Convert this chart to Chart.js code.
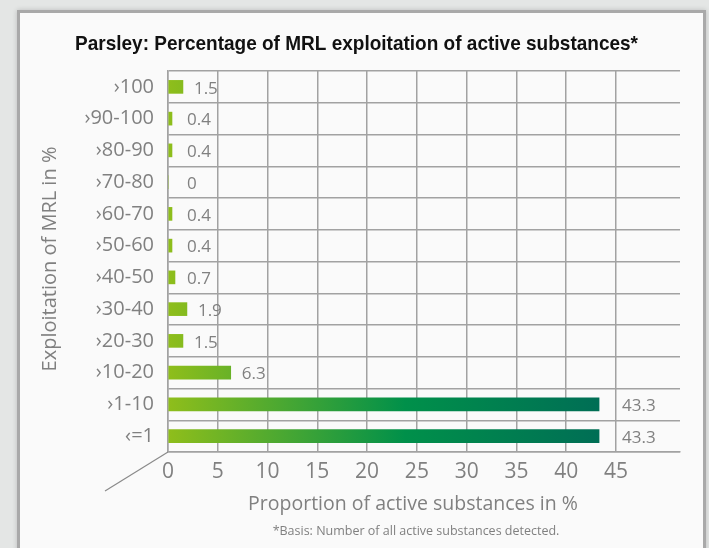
<!DOCTYPE html>
<html>
<head>
<meta charset="utf-8">
<script src="https://cdn.jsdelivr.net/npm/chart.js@4.4.0/dist/chart.umd.min.js"></script>
<style>
  html, body { margin: 0; padding: 0; }
  body { width: 709px; height: 548px; background: #e4e6e5; position: relative; overflow: hidden; }
  .panel {
    position: absolute; left: 17px; top: 10px; width: 683px; height: 600px;
    background: #fafafa; border: 3px solid #a9a9a9;
    box-shadow: 0 0 5px rgba(0,0,0,0.18);
  }
  #chart { position: absolute; left: 0; top: 0; }
</style>
</head>
<body>
<div class="panel"></div>
<canvas id="chart" width="709" height="548"></canvas>
<script>
const categories = ["›100", "›90-100", "›80-90", "›70-80", "›60-70", "›50-60",
    "›40-50", "›30-40", "›20-30", "›10-20", "›1-10", "‹=1"];
const shares = [1.5, 0.4, 0.4, 0, 0.4, 0.4, 0.7, 1.9, 1.5, 6.3, 43.3, 43.3];
const xTicks = [0, 5, 10, 15, 20, 25, 30, 35, 40, 45];

const chartTitle = "Parsley: Percentage of MRL exploitation of active substances*";
const xTitle = "Proportion of active substances in %";
const yTitle = "Exploitation of MRL in %";
const footnote = "*Basis: Number of all active substances detected.";

const FONT = "'Open Sans', sans-serif";
const GREY = "#808080";
const GRID = "#a2a2a2";

// gradient runs across the plot, light green -> dark green at the longest bar
function barGradient(context) {
    const chart = context.chart;
    const area = chart.chartArea;
    if (!area) return "#8fbe1b";
    const x = chart.scales.x;
    const g = chart.ctx.createLinearGradient(x.getPixelForValue(0), 0, x.getPixelForValue(Math.max(...shares)), 0);
    g.addColorStop(0, "#8fbe1b");
    g.addColorStop(0.55, "#00904a");
    g.addColorStop(1, "#006e55");
    return g;
}

const extras = {
    id: "extras",
    afterDatasetsDraw(chart) {
        const ctx = chart.ctx;
        const x = chart.scales.x;
        const y = chart.scales.y;
        const area = chart.chartArea;
        ctx.save();

        // value labels
        ctx.font = "17px " + FONT;
        ctx.fillStyle = GREY;
        ctx.textBaseline = "middle";
        ctx.textAlign = "left";
        const last = x.getPixelForValue(xTicks[xTicks.length - 1]);
        shares.forEach((v, i) => {
            const txt = String(v);
            const w = ctx.measureText(txt).width;
            let px = Math.max(x.getPixelForValue(v) + 11, x.getPixelForValue(0) + 19);
            if (px < last && px + w > last) px = last + 6;
            ctx.fillText(txt, px, y.getPixelForValue(i) + 2);
        });

        // perspective stub at the origin
        ctx.strokeStyle = "#8a8a8a";
        ctx.lineWidth = 1.2;
        ctx.beginPath();
        ctx.moveTo(area.left, area.bottom);
        ctx.lineTo(area.left - 63, area.bottom + 39);
        ctx.stroke();

        // chart title, squeezed to look condensed
        ctx.textAlign = "center";
        ctx.fillStyle = "#111";
        ctx.font = "bold 21px 'Liberation Sans', sans-serif";
        const tw = ctx.measureText(chartTitle).width;
        ctx.save();
        ctx.translate(356.5, 44);
        ctx.scale(563 / tw, 1);
        ctx.fillText(chartTitle, 0, 0);
        ctx.restore();

        ctx.fillStyle = GREY;
        ctx.font = "19.5px " + FONT;
        ctx.fillText(xTitle, 413, 504);

        ctx.font = "12.5px " + FONT;
        ctx.fillText(footnote, 416, 531);

        ctx.translate(50, 259);
        ctx.rotate(-Math.PI / 2);
        ctx.font = "20px " + FONT;
        ctx.fillText(yTitle, 0, 0);
        ctx.restore();
    }
};

new Chart(document.getElementById("chart"), {
    type: "bar",
    data: {
        labels: categories,
        datasets: [{
            data: shares,
            backgroundColor: barGradient,
            borderWidth: 0,
            barThickness: 13,
        }],
    },
    options: {
        indexAxis: "y",
        responsive: false,
        animation: false,
        layout: { padding: { left: 0, right: 29, top: 71, bottom: 0 } },
        plugins: {
            legend: { display: false },
            tooltip: { enabled: false },
        },
        scales: {
            x: {
                min: 0,
                max: 51.43,
                afterBuildTicks(scale) {
                    scale.ticks = xTicks.map((v) => ({ value: v }));
                },
                afterFit(scale) { scale.height = 96; },
                grid: { color: GRID, lineWidth: 1.5, drawTicks: false },
                border: { color: GRID, width: 1.5 },
                ticks: {
                    color: GREY,
                    font: { family: FONT, size: 21 },
                    padding: 7,
                    maxRotation: 0,
                },
            },
            y: {
                afterFit(scale) { scale.width = 168; },
                grid: { color: GRID, lineWidth: 1.5, drawTicks: false, offset: true },
                border: { color: GRID, width: 1.5 },
                ticks: {
                    color: GREY,
                    font: { family: FONT, size: 20 },
                    padding: 14,
                },
            },
        },
    },
    plugins: [extras],
});
</script>
</body>
</html>
